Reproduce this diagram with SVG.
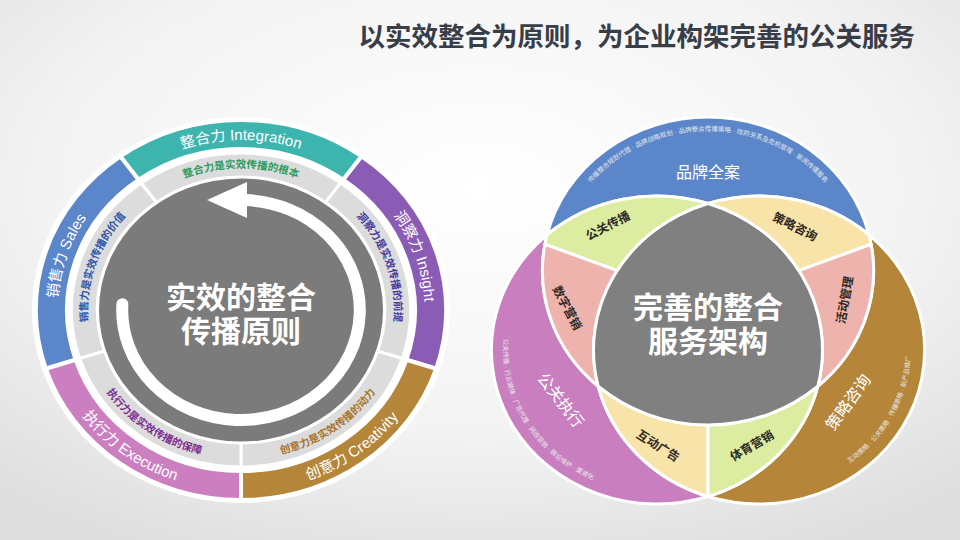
<svg xmlns="http://www.w3.org/2000/svg" width="960" height="540" viewBox="0 0 960 540">
<defs>
<radialGradient id="bg" cx="0.5" cy="0.35" r="0.75">
<stop offset="0" stop-color="#ffffff"/>
<stop offset="0.6" stop-color="#f3f3f3"/>
<stop offset="1" stop-color="#dedede"/>
</radialGradient>
<style>
text{font-family:"Liberation Sans","Noto Sans CJK SC",sans-serif}
.band{stroke:#fff;stroke-width:4;stroke-linejoin:round}
.light{fill:#dcdcdc;stroke:#fff;stroke-width:3;stroke-linejoin:round}
.olab{fill:#fff;font-size:15px}
.ilab{font-size:10.5px;font-weight:bold}
.ctr{fill:#fff;font-size:30px;font-weight:bold;text-anchor:middle}
.reg{stroke:#fff;stroke-width:3;stroke-linejoin:round}
.big{fill:#fff;font-size:16px;text-anchor:middle}
.small{font-size:12px;font-weight:bold;text-anchor:middle;fill:#2e2a26}
.tiny{fill:#f2f2f2;font-size:6.5px;opacity:0.9}
</style>
<path id="tp-sales" d="M 66.38 362.53 A 183.6 170 0 0 1 133.08 172.47"/>
<path id="tp-integration" d="M 133.08 172.47 A 183.6 170 0 0 1 348.92 172.47"/>
<path id="tp-insight" d="M 348.92 172.47 A 183.6 170 0 0 1 415.62 362.53"/>
<path id="tp-creativity" d="M 241 491 A 195.48 181 0 0 0 426.91 365.93"/>
<path id="tp-execution" d="M 55.09 365.93 A 195.48 181 0 0 0 241 491"/>
<path id="ti-sales" d="M 95.14 353.88 A 153.36 142 0 0 1 150.86 195.12"/>
<path id="ti-integration" d="M 150.86 195.12 A 153.36 142 0 0 1 331.14 195.12"/>
<path id="ti-insight" d="M 331.14 195.12 A 153.36 142 0 0 1 386.86 353.88"/>
<path id="ti-creativity" d="M 241 459 A 160.92 149 0 0 0 394.04 356.04"/>
<path id="ti-execution" d="M 87.96 356.04 A 160.92 149 0 0 0 241 459"/>
<path id="tr-blue" d="M 566.58 223.12 A 150.5 140 0 0 1 849.42 223.12"/>
<path id="tr-purple" d="M 508.48 312.99 A 153.7 143 0 0 0 617.16 488.13"/>
<path id="tr-brown" d="M 823.12 477.79 A 151.58 141 0 0 0 908.34 325.52"/>
</defs>

<rect x="0" y="0" width="960" height="540" fill="url(#bg)"/>

<text id="title" x="915" y="46" text-anchor="end" font-size="26.5" font-weight="bold" fill="#383d48">以实效整合为原则，为企业构架完善的公关服务</text>

<g id="left-diagram">
<ellipse cx="241" cy="310" rx="209" ry="193" fill="#ffffff"/>

<g id="seg-sales">
<path class="band" fill="#5b86c9" d="M 45.84 368.71 A 205.2 190 0 0 1 120.39 156.29 L 138.79 179.75 A 173.88 161 0 0 0 75.63 359.75 Z"/>
<path class="light" d="M 79.74 358.52 A 169.56 157 0 0 1 141.33 182.98 L 156.57 202.40 A 143.64 133 0 0 0 104.39 351.10 Z"/>
<text class="olab"><textPath href="#tp-sales" startOffset="50%" text-anchor="middle">销售力  Sales</textPath></text>
<text class="ilab" fill="#2c56a8"><textPath href="#ti-sales" startOffset="50%" text-anchor="middle">销售力是实效传播的价值</textPath></text>
</g>

<g id="seg-integration">
<path class="band" fill="#3db5ae" d="M 120.39 156.29 A 205.2 190 0 0 1 361.61 156.29 L 343.21 179.75 A 173.88 161 0 0 0 138.79 179.75 Z"/>
<path class="light" d="M 141.33 182.98 A 169.56 157 0 0 1 340.67 182.98 L 325.43 202.40 A 143.64 133 0 0 0 156.57 202.40 Z"/>
<text class="olab"><textPath href="#tp-integration" startOffset="50%" text-anchor="middle">整合力  Integration</textPath></text>
<text class="ilab" fill="#2e9a5e"><textPath href="#ti-integration" startOffset="50%" text-anchor="middle">整合力是实效传播的根本</textPath></text>
</g>

<g id="seg-insight">
<path class="band" fill="#8a5cb5" d="M 361.61 156.29 A 205.2 190 0 0 1 436.16 368.71 L 406.37 359.75 A 173.88 161 0 0 0 343.21 179.75 Z"/>
<path class="light" d="M 340.67 182.98 A 169.56 157 0 0 1 402.26 358.52 L 377.61 351.10 A 143.64 133 0 0 0 325.43 202.40 Z"/>
<text class="olab"><textPath href="#tp-insight" startOffset="50%" text-anchor="middle">洞察力  Insight</textPath></text>
<text class="ilab" fill="#4a3a9e"><textPath href="#ti-insight" startOffset="50%" text-anchor="middle">洞察力是实效传播的前提</textPath></text>
</g>

<g id="seg-creativity">
<path class="band" fill="#b5863a" d="M 436.16 368.71 A 205.2 190 0 0 1 241 500 L 241 471 A 173.88 161 0 0 0 406.37 359.75 Z"/>
<path class="light" d="M 402.26 358.52 A 169.56 157 0 0 1 241 467 L 241 443 A 143.64 133 0 0 0 377.61 351.10 Z"/>
<text class="olab"><textPath href="#tp-creativity" startOffset="52%" text-anchor="middle">创意力  Creativity</textPath></text>
<text class="ilab" fill="#a8742a"><textPath href="#ti-creativity" startOffset="50%" text-anchor="middle">创意力是实效传播的动力</textPath></text>
</g>

<g id="seg-execution">
<path class="band" fill="#cc7fc0" d="M 241 500 A 205.2 190 0 0 1 45.84 368.71 L 75.63 359.75 A 173.88 161 0 0 0 241 471 Z"/>
<path class="light" d="M 241 467 A 169.56 157 0 0 1 79.74 358.52 L 104.39 351.10 A 143.64 133 0 0 0 241 443 Z"/>
<text class="olab"><textPath href="#tp-execution" startOffset="48%" text-anchor="middle">执行力  Execution</textPath></text>
<text class="ilab" fill="#7b2d8e"><textPath href="#ti-execution" startOffset="50%" text-anchor="middle">执行力是实效传播的保障</textPath></text>
</g>

<g id="center-left">
<ellipse cx="241" cy="310" rx="142" ry="131.5" fill="#7b7b7b"/>
<text class="ctr" x="241" y="308">实效的整合</text>
<text class="ctr" x="241" y="342">传播原则</text>
</g>
</g>

<g id="connectors">
<path d="M 245.15 200.07 A 118.8 110 0 1 1 122.36 304.24" fill="none" stroke="#ffffff" stroke-width="12" stroke-linecap="round"/>
<polygon points="207,200 247,182 247,218" fill="#ffffff"/>
</g>

<g id="right-diagram">
<g id="brand">
<path class="reg" fill="#5b86c9" d="M 547.09 234.78 A 165.55 154 0 0 1 868.91 234.78 A 165.55 154 0 0 0 708 203.5 A 165.55 154 0 0 0 547.09 234.78 Z"/>
<text class="big" x="708" y="178">品牌全案</text>
<text class="tiny"><textPath href="#tr-blue" startOffset="50%" text-anchor="middle">传播整合规划代理 · 品牌战略规划 · 品牌整合传播策略 · 政府关系及危机管理 · 新闻传播服务</textPath></text>
</g>
<g id="pr-exec">
<path class="reg" fill="#c97fbf" d="M 547.09 234.78 A 165.55 154 0 0 0 708 496.5 A 165.55 154 0 0 1 598.16 386.22 A 165.55 154 0 0 1 547.09 234.78 Z"/>
<text class="big" x="561" y="406" transform="rotate(52 561 400)">公关执行</text>
<text class="tiny"><textPath href="#tr-purple" startOffset="50%" text-anchor="middle">公关传播 · 行业媒体 · 广告代理 · 网络营销 · 舆论维护 · 渠道化</textPath></text>
</g>
<g id="strategy">
<path class="reg" fill="#b5863a" d="M 868.91 234.78 A 165.55 154 0 0 1 708 496.5 A 165.55 154 0 0 0 817.84 386.22 A 165.55 154 0 0 0 868.91 234.78 Z"/>
<text class="big" x="848" y="408" transform="rotate(-54 848 402)">策略咨询</text>
<text class="tiny"><textPath href="#tr-brown" startOffset="50%" text-anchor="middle">互动策略 · 公关策略 · 传播策略 · 新产品推广</textPath></text>
</g>
<g id="pr-comm">
<path class="reg" fill="#dcecA0" d="M 547.09 234.78 A 165.55 154 0 0 1 708 203.5 A 165.55 154 0 0 0 617.16 270.7 L 544.97 244.26 A 165.55 154 0 0 1 547.09 234.78 Z"/>
<text class="small" x="608" y="230" transform="rotate(-27 608 226)">公关传播</text>
</g>
<g id="digital">
<path class="reg" fill="#eeb3ad" d="M 544.97 244.26 L 617.16 270.7 A 165.55 154 0 0 0 598.16 386.22 A 165.55 154 0 0 1 544.97 244.26 Z"/>
<text class="small" x="567" y="312" transform="rotate(62 567 308)">数字营销</text>
</g>
<g id="consult">
<path class="reg" fill="#f8e3a8" d="M 868.91 234.78 A 165.55 154 0 0 0 708 203.5 A 165.55 154 0 0 1 798.84 270.7 L 871.03 244.26 A 165.55 154 0 0 0 868.91 234.78 Z"/>
<text class="small" x="795" y="231" transform="rotate(27 795 227)">策略咨询</text>
</g>
<g id="event">
<path class="reg" fill="#eeb3ad" d="M 871.03 244.26 L 798.84 270.7 A 165.55 154 0 0 1 817.84 386.22 A 165.55 154 0 0 0 871.03 244.26 Z"/>
<text class="small" x="845" y="304" transform="rotate(-80 845 300)">活动管理</text>
</g>
<g id="interactive">
<path class="reg" fill="#f8e3a8" d="M 598.16 386.22 A 165.55 154 0 0 0 708 425 L 708 496.5 A 165.55 154 0 0 1 598.16 386.22 Z"/>
<text class="small" x="658" y="450" transform="rotate(32 658 446)">互动广告</text>
</g>
<g id="sports">
<path class="reg" fill="#dcecA0" d="M 708 425 A 165.55 154 0 0 0 817.84 386.22 A 165.55 154 0 0 1 708 496.5 Z"/>
<text class="small" x="752" y="450" transform="rotate(-30 752 446)">体育营销</text>
</g>
<g id="center-right">
<path class="reg" fill="#808080" d="M 708 203.5 A 165.55 154 0 0 0 598.16 386.22 A 165.55 154 0 0 0 817.84 386.22 A 165.55 154 0 0 0 708 203.5 Z"/>
<text class="ctr" x="708" y="318">完善的整合</text>
<text class="ctr" x="708" y="352">服务架构</text>
</g>
</g>
</svg>
